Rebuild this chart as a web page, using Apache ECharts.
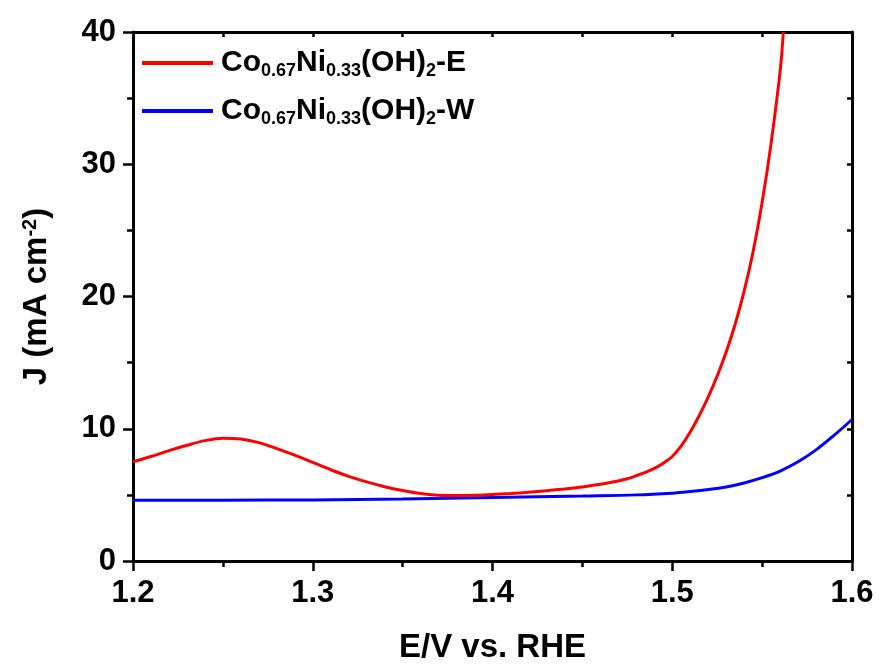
<!DOCTYPE html>
<html>
<head>
<meta charset="utf-8">
<script src="https://cdn.jsdelivr.net/npm/echarts@6/dist/echarts.min.js"></script>
<style>
html,body{margin:0;padding:0;background:#fff;}
#chart{width:883px;height:666px;}
</style>
</head>
<body>
<div id="chart"></div>
<script>
// ---- data ----
const seriesNames = ['Co0.67Ni0.33(OH)2-E', 'Co0.67Ni0.33(OH)2-W'];
const xTicks = [1.2, 1.3, 1.4, 1.5, 1.6];
const yTicks = [0, 10, 20, 30, 40];

const eE = [1.20,1.21,1.22,1.23,1.24,1.25,1.26,1.27,1.28,1.29,1.30,1.31,1.32,1.33,1.34,1.35,1.36,1.37,1.38,1.39,1.40,1.41,1.42,1.43,1.44,1.45,1.46,1.465,1.47,1.475,1.48,1.485,1.49,1.495,1.50,1.505,1.51,1.515,1.52,1.525,1.53,1.535,1.54,1.545,1.55,1.555,1.56,1.5618];
const jE = [7.5,7.9,8.35,8.75,9.1,9.28,9.22,8.95,8.5,8.0,7.45,6.9,6.4,5.98,5.62,5.33,5.1,4.98,4.95,4.97,5.02,5.1,5.2,5.32,5.45,5.6,5.8,5.92,6.05,6.22,6.45,6.7,7.0,7.4,7.9,8.7,9.75,11.0,12.4,14.0,15.8,17.9,20.4,23.4,27.1,31.6,37.0,40.0];

const eW = [1.20,1.25,1.30,1.35,1.40,1.45,1.48,1.50,1.51,1.52,1.53,1.54,1.55,1.56,1.57,1.58,1.59,1.60];
const jW = [4.6,4.6,4.62,4.68,4.8,4.92,5.0,5.13,5.25,5.4,5.6,5.9,6.3,6.8,7.5,8.4,9.5,10.7];

// ---- chart ----
const FONT = 'Liberation Sans, Arial, sans-serif';
const zip = (a, b) => a.map((v, i) => [v, b[i]]);

const legendRich = {
  b: {fontSize: 30, fontWeight: 'bold', fontFamily: FONT, color: '#000', lineHeight: 34, verticalAlign: 'middle'},
  s: {fontSize: 18, fontWeight: 'bold', fontFamily: FONT, color: '#000', lineHeight: 11, verticalAlign: 'bottom'}
};
function legendFmt(name) {
  const suffix = name.slice(-2);
  return '{b|Co}{s|0.67}{b|Ni}{s|0.33}{b|(OH)}{s|2}{b|' + suffix + '}';
}

const axisLine = {show: true, onZero: false, lineStyle: {color: '#000', width: 3}};

const chart = echarts.init(document.getElementById('chart'), null, {renderer: 'canvas'});
chart.setOption({
  animation: false,
  backgroundColor: '#fff',
  grid: {left: 133, right: 31, top: 32, bottom: 105, containLabel: false, outerBoundsMode: 'none'},
  legend: {
    orient: 'vertical',
    left: 142,
    top: 48,
    padding: 0,
    itemWidth: 71,
    itemHeight: 4,
    itemGap: 16,
    icon: 'rect',
    data: seriesNames,
    formatter: legendFmt,
    textStyle: {rich: legendRich, padding: [0, 0, 0, 3]}
  },
  xAxis: [{
    type: 'value', min: xTicks[0], max: xTicks[xTicks.length - 1], interval: 0.1,
    position: 'bottom',
    name: 'E/V vs. RHE', nameLocation: 'middle', nameGap: 70,
    nameTextStyle: {fontSize: 33, fontWeight: 'bold', fontFamily: FONT, color: '#000'},
    axisLine: axisLine,
    axisTick: {show: true, inside: false, length: 10, lineStyle: {color: '#000', width: 2.5}},
    minorTick: {show: true, splitNumber: 2, length: 6, lineStyle: {color: '#000', width: 2.5}},
    axisLabel: {margin: 17, fontSize: 31, fontWeight: 'bold', fontFamily: FONT, color: '#000', formatter: v => v.toFixed(1)},
    splitLine: {show: false}
  }, {
    type: 'value', min: xTicks[0], max: xTicks[xTicks.length - 1], interval: 0.1,
    position: 'top',
    axisLine: axisLine,
    axisTick: {show: true, inside: true, length: 5, lineStyle: {color: '#000', width: 2.5}},
    minorTick: {show: true, splitNumber: 2, length: 5, lineStyle: {color: '#000', width: 2.5}},
    axisLabel: {show: false},
    splitLine: {show: false}
  }],
  yAxis: [{
    type: 'value', min: yTicks[0], max: yTicks[yTicks.length - 1], interval: 10,
    position: 'left',
    name: 'J (mA cm{sup|-2})', nameLocation: 'middle', nameGap: 79, nameRotate: 90,
    nameTextStyle: {fontSize: 33, fontWeight: 'bold', fontFamily: FONT, color: '#000',
      rich: {sup: {fontSize: 20, fontWeight: 'bold', fontFamily: FONT, color: '#000', verticalAlign: 'top', lineHeight: 34}}},
    axisLine: axisLine,
    axisTick: {show: true, inside: false, length: 10, lineStyle: {color: '#000', width: 2.5}},
    minorTick: {show: true, splitNumber: 2, length: 6, lineStyle: {color: '#000', width: 2.5}},
    axisLabel: {margin: 17, fontSize: 31, fontWeight: 'bold', fontFamily: FONT, color: '#000'},
    splitLine: {show: false}
  }, {
    type: 'value', min: yTicks[0], max: yTicks[yTicks.length - 1], interval: 10,
    position: 'right',
    axisLine: axisLine,
    axisTick: {show: true, inside: true, length: 5, lineStyle: {color: '#000', width: 2.5}},
    minorTick: {show: true, splitNumber: 2, length: 5, lineStyle: {color: '#000', width: 2.5}},
    axisLabel: {show: false},
    splitLine: {show: false}
  }],
  series: [{
    name: seriesNames[0], type: 'line', xAxisIndex: 0, yAxisIndex: 0,
    data: zip(eE, jE), smooth: 0.35, showSymbol: false, clip: true,
    itemStyle: {color: '#ff0000'}, lineStyle: {color: '#ff0000', width: 3}, z: 3
  }, {
    name: seriesNames[1], type: 'line', xAxisIndex: 0, yAxisIndex: 0,
    data: zip(eW, jW), smooth: 0.35, showSymbol: false, clip: true,
    itemStyle: {color: '#0000ff'}, lineStyle: {color: '#0000ff', width: 3}, z: 2
  }]
});
</script>
</body>
</html>
